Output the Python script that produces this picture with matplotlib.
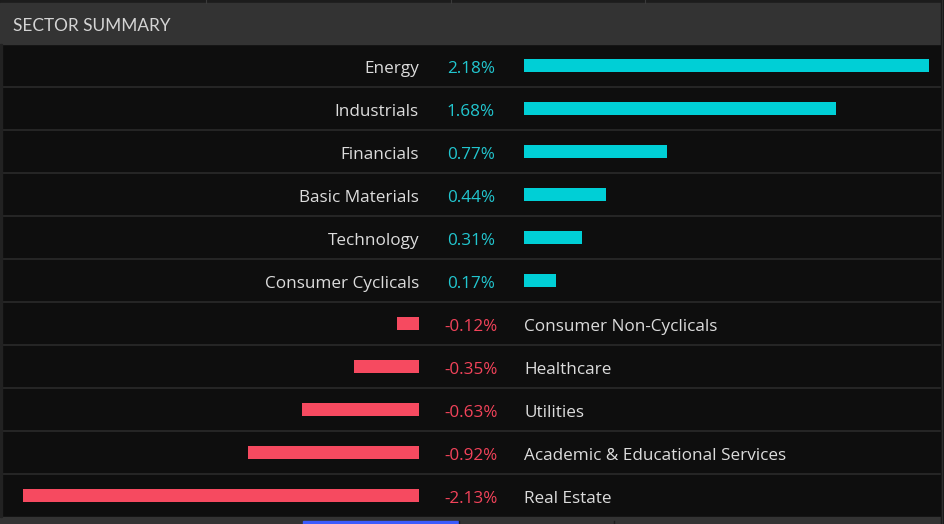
import matplotlib
matplotlib.use("Agg")
import matplotlib.pyplot as plt
from matplotlib.patches import Rectangle

# Sector summary data (percent change)
sectors = ["Energy", "Industrials", "Financials", "Basic Materials", "Technology",
           "Consumer Cyclicals", "Consumer Non-Cyclicals", "Healthcare", "Utilities",
           "Academic & Educational Services", "Real Estate"]
changes = [2.18, 1.68, 0.77, 0.44, 0.31, 0.17, -0.12, -0.35, -0.63, -0.92, -2.13]

W, H = 945, 524
BG = "#0e0e0e"
HEADER = "#333333"
GRID = "#2a2a2a"
POS_BAR = "#00cfd6"
NEG_BAR = "#f64a60"
POS_TXT = "#22c6cf"
NEG_TXT = "#f2435a"
LABEL = "#dcdcdc"
FONT = "Open Sans"
FS = 12.3

fig = plt.figure(figsize=(W / 100, H / 100), dpi=100, facecolor=BG)

# background axes in pixel coords for frame / header / separators
bg = fig.add_axes([0, 0, 1, 1])
bg.set_xlim(0, W)
bg.set_ylim(H, 0)
bg.axis("off")

top, row_h = 44, 43
n = len(sectors)
bottom = top + n * row_h

bg.add_patch(Rectangle((0, 0), W, H, color=BG, zorder=0))
bg.add_patch(Rectangle((0, 0), W, 2.5, color="#1c1c1c", zorder=1))
for x in [206, 451, 645]:
    bg.plot([x, x], [0, 2.5], color="#3a3a3a", lw=0.8, zorder=2)
bg.add_patch(Rectangle((0, 2.5), 941, top - 2.5, color=HEADER, zorder=1))
bg.text(13, 26, "SECTOR SUMMARY", color="#d4d4d4", fontsize=12.4, family="Lato",
        va="center", ha="left", zorder=3)

for i in range(1, n):
    y = top + i * row_h
    bg.plot([2, 941], [y, y], color=GRID, lw=1.2, zorder=2)

# side borders
bg.add_patch(Rectangle((0, top), 2, bottom - top, color="#222222", zorder=2))
bg.add_patch(Rectangle((941, 0), 4, H, color="#161616", zorder=2))
bg.plot([941.5, 941.5], [0, H], color="#2e2e2e", lw=1, zorder=3)

# bottom tab strip
bg.add_patch(Rectangle((0, bottom), 941, H - bottom, color=HEADER, zorder=1))
bg.add_patch(Rectangle((303, bottom + 4), 155, H - bottom - 4, color="#3b5bfd", zorder=2))
for x in [459, 614]:
    bg.plot([x, x], [bottom + 4, H], color="#1e1e1e", lw=1, zorder=2)

# bar axes: positive side from x=524, negative side ending at x=419
scale = 186.0  # pixels per percent
fy0 = 1 - bottom / H
fh = (bottom - top) / H

pos_ax = fig.add_axes([524 / W, fy0, (W - 524) / W, fh])
neg_ax = fig.add_axes([0, fy0, 419 / W, fh])
pos_ax.set_xlim(0, (W - 524) / scale)
neg_ax.set_xlim(-419 / scale, 0)
for ax in (pos_ax, neg_ax):
    ax.set_ylim(n - 0.5, -0.5)
    ax.axis("off")
    ax.patch.set_alpha(0)

rows = list(range(n))
pos_vals = [v if v > 0 else 0 for v in changes]
neg_vals = [v if v < 0 else 0 for v in changes]
pos_ax.barh(rows, pos_vals, height=0.28, color=POS_BAR)
neg_ax.barh(rows, neg_vals, height=0.28, color=NEG_BAR)

# text in pixel coordinates
for i, (name, v) in enumerate(zip(sectors, changes)):
    yc = top + (i + 0.5) * row_h + 3.3
    col = POS_TXT if v > 0 else NEG_TXT
    bg.text(471, yc, f"{v:.2f}%", color=col, fontsize=FS, family=FONT,
            ha="center", va="center", zorder=4)
    if v > 0:
        bg.text(419, yc, name, color=LABEL, fontsize=FS, family=FONT,
                ha="right", va="center", zorder=4)
    else:
        bg.text(524, yc, name, color=LABEL, fontsize=FS, family=FONT,
                ha="left", va="center", zorder=4)

fig.savefig("out.png", dpi=100, facecolor=BG)
